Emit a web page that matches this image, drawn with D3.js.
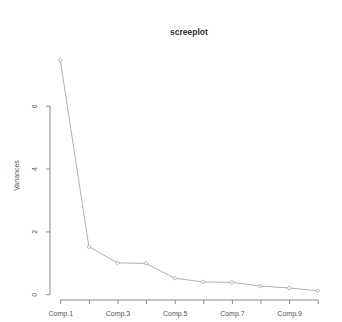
<!DOCTYPE html>
<html><head><meta charset="utf-8">
<script src="https://cdn.jsdelivr.net/npm/d3@7"></script>
<style>body{margin:0;background:#fff}svg{display:block}text{font-family:"Liberation Sans",Arial,sans-serif}</style>
</head><body>
<svg id="c" width="342" height="322"></svg>
<script>
const categories = ["Comp.1","Comp.2","Comp.3","Comp.4","Comp.5","Comp.6","Comp.7","Comp.8","Comp.9","Comp.10"];
const variances = [7.45, 1.51, 1.00, 0.98, 0.51, 0.39, 0.38, 0.26, 0.20, 0.11];
const yTicks = [0, 2, 4, 6];
const xLabelled = ["Comp.1","Comp.3","Comp.5","Comp.7","Comp.9"];
const title = "screeplot";
const yTitle = "Variances";

const svg = d3.select("#c");
const L = 50, R = 328, T = 51, B = 300;
const idx = categories.map((d,i)=>i+1);
const xpad = 0.04*(idx.length-1);
const x = d3.scaleLinear().domain([1-xpad, idx.length+xpad]).range([L, R]);
const ymin = d3.min(variances), ymax = d3.max(variances);
const ypad = 0.04*(ymax-ymin);
const y = d3.scaleLinear().domain([ymin-ypad, ymax+ypad]).range([B, T]);

const axisCol = "#8a8a8a", textCol = "#555";

// line
svg.append("path").datum(variances)
  .attr("fill","none").attr("stroke","#b0b0b0").attr("stroke-width",1)
  .attr("d", d3.line().x((d,i)=>x(i+1)).y(d=>y(d)));
svg.selectAll("circle.p").data(variances).join("circle")
  .attr("cx",(d,i)=>x(i+1)).attr("cy",d=>y(d)).attr("r",1.6)
  .attr("fill","#fff").attr("stroke","#aaa").attr("stroke-width",0.8);

// x axis
const xa = svg.append("g").attr("transform",`translate(0,${B})`)
  .call(d3.axisBottom(x).tickValues(idx).tickSize(4).tickFormat(i=>{
    const c = categories[i-1]; return xLabelled.includes(c) ? c : "";
  }));
xa.select(".domain").attr("stroke",axisCol).attr("d",`M${x(1)},0H${x(idx.length)}`);
xa.selectAll(".tick line").attr("stroke",axisCol);
xa.selectAll("text").attr("fill",textCol).attr("font-size",7).attr("dy","1.25em");

// y axis
const ya = svg.append("g").attr("transform",`translate(${L},0)`)
  .call(d3.axisLeft(y).tickValues(yTicks).tickSize(4).tickFormat(d3.format("d")));
ya.select(".domain").attr("stroke",axisCol).attr("d",`M0,${y(yTicks[0])}V${y(yTicks[yTicks.length-1])}`);
ya.selectAll(".tick line").attr("stroke",axisCol);
ya.selectAll(".tick text").attr("fill",textCol).attr("font-size",7)
  .attr("x",null).attr("dy",null).attr("text-anchor","middle")
  .attr("transform","translate(-13,0) rotate(-90)");

svg.append("text").attr("x",189).attr("y",35).attr("text-anchor","middle")
  .attr("font-size",8.5).attr("font-weight","bold").attr("fill","#333").text(title);
svg.append("text").attr("transform",`translate(19,${(T+B)/2}) rotate(-90)`)
  .attr("text-anchor","middle").attr("font-size",7).attr("fill",textCol).text(yTitle);
</script>
</body></html>
